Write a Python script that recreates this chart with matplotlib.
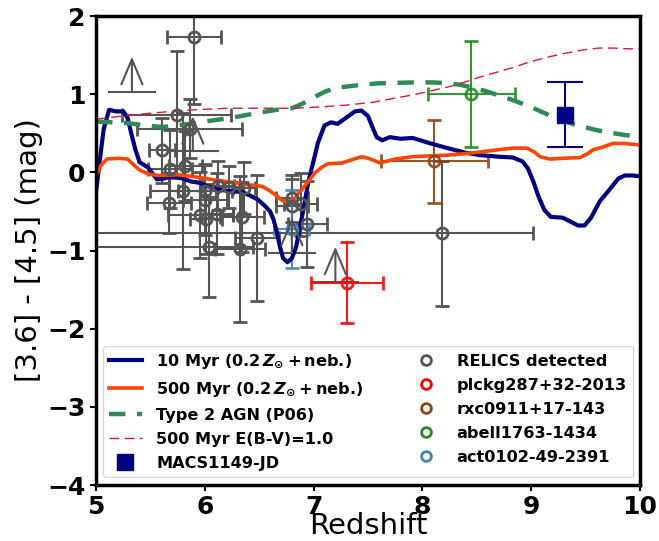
import numpy as np
import matplotlib
matplotlib.use("Agg")
import matplotlib.pyplot as plt
from matplotlib.lines import Line2D

plt.rcParams['mathtext.fontset'] = 'custom'
plt.rcParams['mathtext.rm'] = 'DejaVu Sans:bold'
plt.rcParams['mathtext.it'] = 'DejaVu Sans:bold:italic'

# model colour tracks
z_10myr = [5.00, 5.03, 5.07, 5.12, 5.18, 5.25, 5.29, 5.32, 5.36, 5.40, 5.48, 5.56, 5.62, 5.70,
           5.80, 5.88, 5.94, 6.03, 6.12, 6.23, 6.34, 6.42, 6.49, 6.56, 6.60, 6.63, 6.66, 6.69,
           6.72, 6.76, 6.80, 6.84, 6.87, 6.91, 6.95, 7.00, 7.04, 7.10, 7.16, 7.22, 7.30, 7.38,
           7.44, 7.50, 7.54, 7.58, 7.63, 7.70, 7.80, 7.91, 8.05, 8.23, 8.40, 8.53, 8.70, 8.83,
           8.92, 8.97, 9.02, 9.07, 9.12, 9.18, 9.29, 9.36, 9.43, 9.49, 9.55, 9.63, 9.72, 9.80,
           9.86, 9.93, 10.0]
c_10myr = [-0.25, 0.10, 0.55, 0.80, 0.78, 0.78, 0.70, 0.52, 0.30, 0.13, 0.06, -0.09, -0.08, -0.05,
           -0.08, -0.12, -0.13, -0.18, -0.22, -0.24, -0.25, -0.30, -0.35, -0.44, -0.50, -0.60, -0.75, -0.95,
           -1.10, -1.15, -1.10, -0.95, -0.73, -0.45, -0.13, 0.15, 0.38, 0.60, 0.64, 0.62, 0.70, 0.78,
           0.79, 0.72, 0.58, 0.45, 0.41, 0.45, 0.43, 0.44, 0.38, 0.31, 0.25, 0.22, 0.20, 0.19,
           0.14, 0.05, -0.12, -0.32, -0.48, -0.57, -0.58, -0.63, -0.68, -0.68, -0.58, -0.37, -0.22, -0.08,
           -0.04, -0.04, -0.05]

z_500myr = [5.00, 5.04, 5.10, 5.20, 5.29, 5.35, 5.40, 5.48, 5.57, 5.65, 5.75, 5.87, 5.97, 6.10,
            6.21, 6.35, 6.53, 6.60, 6.65, 6.71, 6.77, 6.82, 6.89, 6.95, 7.01, 7.08, 7.13, 7.26,
            7.35, 7.44, 7.50, 7.56, 7.61, 7.75, 7.91, 8.05, 8.23, 8.40, 8.53, 8.70, 8.83, 8.96,
            9.03, 9.08, 9.17, 9.30, 9.45, 9.52, 9.57, 9.65, 9.75, 9.85, 10.0]
c_500myr = [-0.05, 0.08, 0.17, 0.18, 0.17, 0.09, 0.03, -0.02, -0.04, -0.04, -0.03, -0.05, -0.07, -0.10,
            -0.12, -0.15, -0.18, -0.24, -0.29, -0.36, -0.37, -0.34, -0.22, -0.12, -0.01, 0.07, 0.11, 0.12,
            0.16, 0.20, 0.18, 0.15, 0.12, 0.17, 0.20, 0.21, 0.22, 0.24, 0.26, 0.29, 0.31, 0.31,
            0.26, 0.20, 0.17, 0.18, 0.19, 0.24, 0.29, 0.32, 0.37, 0.37, 0.35]

z_agn = [5.0, 5.15, 5.29, 5.45, 5.61, 5.75, 5.91, 6.05, 6.21, 6.37, 6.53, 6.70, 6.80, 6.90, 6.99,
         7.10, 7.20, 7.44, 7.61, 7.91, 8.10, 8.23, 8.35, 8.47, 8.58, 8.69, 8.84, 8.99, 9.20, 9.40,
         9.60, 9.80, 10.0]
c_agn = [0.65, 0.64, 0.63, 0.60, 0.58, 0.60, 0.63, 0.66, 0.69, 0.73, 0.77, 0.81, 0.82, 0.88, 0.95,
         1.03, 1.08, 1.12, 1.14, 1.15, 1.15, 1.14, 1.12, 1.08, 1.04, 0.99, 0.92, 0.84, 0.71, 0.61,
         0.54, 0.49, 0.45]

z_dusty = [5.0, 5.3, 5.61, 5.9, 6.21, 6.5, 6.83, 7.1, 7.3, 7.56, 7.75, 7.91, 8.07, 8.23, 8.38,
           8.53, 8.68, 8.83, 8.98, 9.14, 9.30, 9.45, 9.55, 9.63, 9.75, 9.90, 10.0]
c_dusty = [0.68, 0.73, 0.77, 0.80, 0.82, 0.82, 0.82, 0.84, 0.86, 0.90, 0.95, 0.99, 1.04, 1.09, 1.15,
           1.22, 1.28, 1.34, 1.41, 1.47, 1.52, 1.56, 1.58, 1.59, 1.59, 1.58, 1.58]

# RELICS detections
rel_z = [5.90, 5.74, 5.86, 5.61, 5.68, 5.82, 5.80, 6.00, 6.00, 5.67, 5.96, 6.01, 6.11,
         6.12, 6.22, 6.36, 6.34, 6.04, 6.32, 6.48, 6.80, 6.80, 6.88, 6.94, 8.18]
rel_c = [1.73, 0.74, 0.56, 0.28, 0.04, 0.08, -0.24, -0.24, -0.35, -0.39, -0.54, -0.60, -0.53,
         -0.17, -0.19, -0.20, -0.57, -0.96, -0.98, -0.84, -0.33, -0.43, -0.41, -0.66, -0.78]
rel_zlo = [0.25, 0.50, 0.48, 0.12, 0.20, 0.15, 0.30, 0.25, 0.20, 0.20, 0.30, 0.15, 0.15,
           0.15, 0.10, 0.10, 0.20, 1.10, 0.23, 0.20, 0.15, 0.15, 0.15, 0.18, 3.30]
rel_zhi = [0.25, 0.50, 0.48, 0.12, 0.20, 0.15, 0.30, 0.25, 0.20, 0.20, 0.30, 0.15, 0.15,
           0.15, 0.10, 0.10, 0.20, 0.40, 0.23, 0.20, 0.15, 0.15, 0.15, 0.18, 0.84]
rel_cerr = [0.85, 0.81, 0.38, 0.42, 0.50, 0.45, 1.00, 0.35, 0.45, 0.38, 0.55, 0.45, 0.52,
            0.31, 0.27, 0.33, 0.45, 0.64, 0.93, 0.81, 0.30, 0.35, 0.40, 0.55, 0.93]

# lower limits in colour
lim_z = [5.33, 5.89, 6.80, 7.20]
lim_c = [1.03, 0.27, -1.03, -1.40]
lim_zerr = [0.21, 0.23, 0.21, 0.21]

# individual objects
obj_names = ['plckg287+32-2013', 'rxc0911+17-143', 'abell1763-1434', 'act0102-49-2391']
obj_colors = ['red', 'saddlebrown', 'forestgreen', 'steelblue']
obj_z = [7.31, 8.11, 8.45, 6.80]
obj_c = [-1.41, 0.14, 1.00, -0.72]
obj_zerr = [0.33, 0.49, 0.40, 0.16]
obj_cerr = [0.52, 0.53, 0.68, 0.50]

jd_z, jd_c, jd_cerr = 9.31, 0.74, 0.41

gray = '#555555'

fig = plt.figure(figsize=(6.59, 5.41), dpi=100)
ax = fig.add_axes([0.1457, 0.1035, 0.8255, 0.8669])

ax.errorbar(rel_z, rel_c, xerr=[rel_zlo, rel_zhi], yerr=rel_cerr, fmt='o', mfc='none',
            mec=gray, mew=2, ms=8, ecolor=gray, elinewidth=1.5, capsize=5, capthick=1.5)
for z, c, dz in zip(lim_z, lim_c, lim_zerr):
    ax.plot([z - dz, z + dz], [c, c], color=gray, lw=1.5)
    ax.annotate('', xy=(z, c + 0.45), xytext=(z, c),
                arrowprops=dict(arrowstyle='->,head_length=0.9,head_width=0.38',
                                color=gray, lw=1.5, mutation_scale=20, shrinkA=0, shrinkB=0))
for z, c, dz, dc, col in zip(obj_z, obj_c, obj_zerr, obj_cerr, obj_colors):
    ax.errorbar(z, c, xerr=dz, yerr=dc, fmt='o', mfc='none', mec=col, mew=2, ms=8,
                ecolor=col, elinewidth=1.5, capsize=5, capthick=1.5, alpha=0.9)

ax.plot(z_10myr, c_10myr, color='navy', lw=3)
ax.plot(z_500myr, c_500myr, color='orangered', lw=2.6)
ax.plot(z_agn, c_agn, color='seagreen', lw=3.2, dashes=(3.7, 2.6))
ax.plot(z_dusty, c_dusty, color='crimson', lw=1, dashes=(7, 4))
ax.errorbar(jd_z, jd_c, yerr=jd_cerr, fmt='s', color='navy', ms=11, elinewidth=1.5,
            capsize=13, capthick=1.5)

ax.set_xlim(5, 10)
ax.set_ylim(-4, 2)
ax.set_xlabel('Redshift', fontsize=21, labelpad=-5)
ax.set_ylabel('[3.6] - [4.5] (mag)', fontsize=21, labelpad=3)
for lab in ax.get_xticklabels() + ax.get_yticklabels():
    lab.set_fontsize(18)
    lab.set_fontweight('bold')
for sp in ax.spines.values():
    sp.set_linewidth(2.5)
ax.tick_params(width=1.5, length=4)

handles = [
    Line2D([], [], color='navy', lw=3),
    Line2D([], [], color='orangered', lw=2.6),
    Line2D([], [], color='seagreen', lw=3.2, dashes=(3.7, 2.6)),
    Line2D([], [], color='crimson', lw=1, dashes=(7, 4)),
    Line2D([], [], color='navy', marker='s', ls='none', ms=11),
    Line2D([], [], color=gray, marker='o', mfc='none', mew=2, ms=7, ls='none'),
]
for col in obj_colors:
    handles.append(Line2D([], [], color=col, marker='o', mfc='none', mew=2, ms=7, ls='none'))
labels = [r'10 Myr (0.2$\,Z_{\odot}+$neb.)', r'500 Myr (0.2$\,Z_{\odot}+$neb.)',
          'Type 2 AGN (P06)', '500 Myr E(B-V)=1.0', 'MACS1149-JD',
          'RELICS detected'] + obj_names
ax.legend(handles, labels, loc='lower center', ncol=2, columnspacing=2.9,
          labelspacing=0.55, handletextpad=0.9, prop={'size': 11.6, 'weight': 'bold'})

fig.savefig('out.png', dpi=100)
